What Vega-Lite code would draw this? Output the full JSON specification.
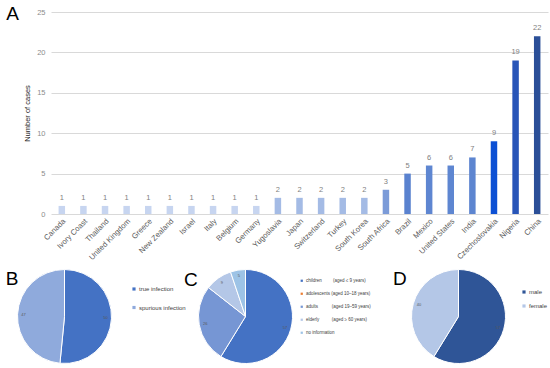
{
  "$schema": "https://vega.github.io/schema/vega-lite/v6.json",
  "padding": {"left": 5, "top": 5, "right": 5, "bottom": 5},
  "background": "white",
  "config": {
    "view": {"stroke": null},
    "font": "Liberation Sans",
    "title": {"font": "Liberation Sans", "fontSize": 19, "fontWeight": "normal", "color": "#000", "orient": "left", "anchor": "end", "angle": 0, "align": "right", "baseline": "top"}
  },
  "bounds": "flush",
  "spacing": 55,
  "resolve": {"scale": {"color": "independent", "theta": "independent"}, "legend": {"color": "independent"}},
  "vconcat": [
    {
      "title": {"text": "A", "offset": -8, "dy": -3},
      "width": 497,
      "height": 202,
      "data": {"values": [
        {"country": "Canada", "cases": 1},
        {"country": "Ivory Coast", "cases": 1},
        {"country": "Thailand", "cases": 1},
        {"country": "United Kingdom", "cases": 1},
        {"country": "Greece", "cases": 1},
        {"country": "New Zealand", "cases": 1},
        {"country": "Israel", "cases": 1},
        {"country": "Italy", "cases": 1},
        {"country": "Belgium", "cases": 1},
        {"country": "Germany", "cases": 1},
        {"country": "Yugoslavia", "cases": 2},
        {"country": "Japan", "cases": 2},
        {"country": "Switzerland", "cases": 2},
        {"country": "Turkey", "cases": 2},
        {"country": "South Korea", "cases": 2},
        {"country": "South Africa", "cases": 3},
        {"country": "Brazil", "cases": 5},
        {"country": "Mexico", "cases": 6},
        {"country": "United States", "cases": 6},
        {"country": "India", "cases": 7},
        {"country": "Czechoslovakia", "cases": 9},
        {"country": "Nigeria", "cases": 19},
        {"country": "China", "cases": 22}
      ]},
      "encoding": {
        "x": {"field": "country", "type": "nominal", "sort": null,
          "scale": {"paddingInner": 0.7, "paddingOuter": 0.35},
          "axis": {"title": null, "labelAngle": -45, "labelFontSize": 7.7, "labelColor": "#595959", "ticks": false, "domain": false, "labelPadding": 3, "grid": false}},
        "y": {"field": "cases", "type": "quantitative", "scale": {"domain": [0, 25]},
          "axis": {"values": [0, 5, 10, 15, 20, 25], "title": "Number of cases", "titleFontSize": 7.5, "titleFontWeight": "normal", "titleColor": "#262626", "titlePadding": 5, "labelFontSize": 7.5, "labelColor": "#8c8c8c", "ticks": false, "domain": false, "gridColor": "#d9d9d9", "labelPadding": 6}}
      },
      "layer": [
        {"mark": {"type": "bar"},
         "encoding": {"color": {"field": "cases", "type": "ordinal",
           "scale": {"domain": [1, 2, 3, 5, 6, 7, 9, 19, 22], "range": ["#c7d5f0", "#a4bbe5", "#7b9bd8", "#5a82cf", "#5e86d1", "#5d85d0", "#0c50d4", "#2855b8", "#2b4f98"]},
           "legend": null}}},
        {"mark": {"type": "text", "baseline": "bottom", "dy": -4, "fontSize": 7.5, "color": "#7f7f7f"},
         "encoding": {"text": {"field": "cases"}}}
      ]
    },
    {
      "hconcat": [
        {
          "title": {"text": "B", "offset": -15.5, "dy": 2.5},
          "width": 27,
          "height": 95,
          "data": {"values": [
            {"type": "true infection", "n": 50, "k": 1},
            {"type": "spurious infection", "n": 47, "k": 2}
          ]},
          "encoding": {
            "theta": {"field": "n", "type": "quantitative", "stack": true},
            "order": {"field": "k", "type": "quantitative"}
          },
          "layer": [
            {"mark": {"type": "arc", "outerRadius": 47, "stroke": "#ffffff", "strokeWidth": 1},
             "encoding": {"color": {"field": "type", "type": "nominal",
               "scale": {"domain": ["true infection", "spurious infection"], "range": ["#4472c4", "#8faadc"]},
               "legend": {"title": null, "orient": "right", "offset": 36, "padding": 17, "symbolType": "square", "symbolSize": 10, "labelFontSize": 6, "labelColor": "#404040", "rowPadding": 12.5, "labelOffset": 2, "symbolStrokeWidth": 0}}}},
            {"mark": {"type": "text", "radius": 41, "fontSize": 4, "color": "#595959"},
             "encoding": {"text": {"field": "n"}, "detail": {"field": "type"}}}
          ]
        },
        {
          "title": {"text": "C", "offset": -15, "dy": 3.5},
          "width": 95,
          "height": 95,
          "data": {"values": [
            {"group": "children\u00a0\u00a0\u00a0\u00a0\u00a0\u00a0\u00a0\u00a0\u00a0(aged ≤ 9 years)", "n": 57, "k": 1},
            {"group": "adults\u00a0\u00a0\u00a0\u00a0\u00a0\u00a0\u00a0\u00a0\u00a0\u00a0\u00a0(aged 19–59 years)", "n": 26, "k": 3},
            {"group": "elderly\u00a0\u00a0\u00a0\u00a0\u00a0\u00a0\u00a0\u00a0\u00a0\u00a0(aged ≥ 60 years)", "n": 9, "k": 4},
            {"group": "no information", "n": 5, "k": 5}
          ]},
          "encoding": {
            "theta": {"field": "n", "type": "quantitative", "stack": true},
            "order": {"field": "k", "type": "quantitative"}
          },
          "layer": [
            {"mark": {"type": "arc", "outerRadius": 47, "stroke": "#ffffff", "strokeWidth": 1},
             "encoding": {"color": {"field": "group", "type": "nominal",
               "scale": {"domain": ["children\u00a0\u00a0\u00a0\u00a0\u00a0\u00a0\u00a0\u00a0\u00a0(aged ≤ 9 years)", "adolescents (aged 10–18 years)", "adults\u00a0\u00a0\u00a0\u00a0\u00a0\u00a0\u00a0\u00a0\u00a0\u00a0\u00a0(aged 19–59 years)", "elderly\u00a0\u00a0\u00a0\u00a0\u00a0\u00a0\u00a0\u00a0\u00a0\u00a0(aged ≥ 60 years)", "no information"],
                 "range": ["#4472c4", "#ed7d31", "#7696d4", "#b4c7e7", "#9dc3e6"]},
               "legend": {"title": null, "orient": "right", "offset": -3.5, "padding": 9.5, "symbolType": "square", "symbolSize": 5, "labelFontSize": 4.5, "labelColor": "#404040", "rowPadding": 8, "labelOffset": 2, "symbolStrokeWidth": 0, "labelLimit": 200}}}},
            {"mark": {"type": "text", "radius": 41, "fontSize": 4, "color": "#595959"},
             "encoding": {"text": {"field": "n"}, "detail": {"field": "group"}}}
          ]
        },
        {
          "title": {"text": "D", "offset": -11, "dy": 2.5},
          "width": 91,
          "height": 95,
          "data": {"values": [
            {"sex": "male", "n": 57, "k": 1},
            {"sex": "female", "n": 40, "k": 2}
          ]},
          "encoding": {
            "theta": {"field": "n", "type": "quantitative", "stack": true},
            "order": {"field": "k", "type": "quantitative"}
          },
          "layer": [
            {"mark": {"type": "arc", "outerRadius": 47, "stroke": "#ffffff", "strokeWidth": 1},
             "encoding": {"color": {"field": "sex", "type": "nominal",
               "scale": {"domain": ["male", "female"], "range": ["#2f5597", "#b4c7e7"]},
               "legend": {"title": null, "orient": "right", "offset": -3, "padding": 20, "symbolType": "square", "symbolSize": 10, "labelFontSize": 6, "labelColor": "#404040", "rowPadding": 8, "labelOffset": 2, "symbolStrokeWidth": 0}}}},
            {"mark": {"type": "text", "radius": 41, "fontSize": 4, "color": "#595959"},
             "encoding": {"text": {"field": "n"}, "detail": {"field": "sex"}}}
          ]
        }
      ],
      "spacing": 120,
      "bounds": "flush",
      "resolve": {"scale": {"color": "independent", "theta": "independent"}, "legend": {"color": "independent"}}
    }
  ]
}
